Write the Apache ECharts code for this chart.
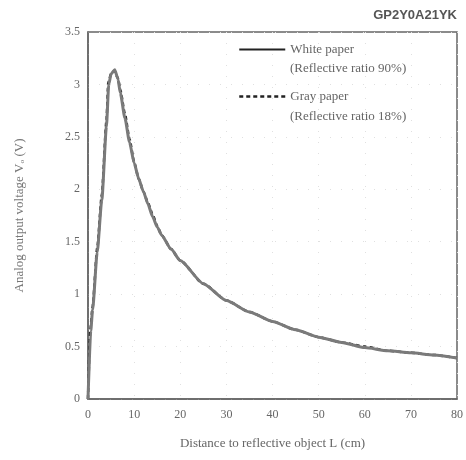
<!DOCTYPE html>
<html>
<head>
<meta charset="utf-8">
<script src="https://cdn.jsdelivr.net/npm/echarts@6/dist/echarts.min.js"></script>
<style>
  html, body { margin: 0; padding: 0; background: #fff; }
  #main { width: 466px; height: 460px; }
</style>
</head>
<body>
<div id="main"></div>
<script>
// distance L (cm) and output voltage (V)
const whiteDist = [0, 0.6, 1, 2, 3, 4, 4.5, 5, 5.8, 6.5, 7, 8, 9, 10, 11, 12, 13, 14, 15, 16, 18, 20, 25, 30, 35, 40, 45, 50, 55, 60, 65, 70, 75, 80];
const whiteVolt = [0, 0.65, 0.85, 1.4, 1.9, 2.6, 3.0, 3.1, 3.14, 3.05, 2.92, 2.68, 2.45, 2.25, 2.1, 1.98, 1.86, 1.74, 1.64, 1.56, 1.43, 1.32, 1.1, 0.94, 0.83, 0.74, 0.66, 0.59, 0.54, 0.49, 0.46, 0.44, 0.42, 0.39];

const grayDist = [0, 0.5, 1, 2, 3, 4, 4.4, 5, 5.7, 6.5, 7, 8, 9, 10, 11, 12, 13, 14, 15, 16, 18, 20, 25, 30, 35, 40, 45, 50, 55, 60, 65, 70, 75, 80];
const grayVolt = [0, 0.66, 0.88, 1.44, 1.95, 2.65, 3.02, 3.1, 3.13, 3.06, 2.95, 2.72, 2.48, 2.26, 2.1, 1.98, 1.87, 1.76, 1.65, 1.56, 1.43, 1.32, 1.1, 0.94, 0.83, 0.74, 0.66, 0.59, 0.54, 0.5, 0.46, 0.44, 0.42, 0.39];

const seriesNames = ['White paper', 'Gray paper'];
const ratioLabels = ['(Reflective ratio 90%)', '(Reflective ratio 18%)'];
const xTicks = [0, 10, 20, 30, 40, 50, 60, 70, 80];
const yTicks = [0, 0.5, 1, 1.5, 2, 2.5, 3, 3.5];

const toPairs = (xs, ys) => xs.map((x, i) => [x, ys[i]]);

const chart = echarts.init(document.getElementById('main'));

const serif = '"Liberation Serif", "DejaVu Serif", serif';

const option = {
  animation: false,
  backgroundColor: '#fff',
  title: {
    text: 'GP2Y0A21YK',
    right: 4,
    top: 4,
    textStyle: {
      fontFamily: '"Liberation Sans", Arial, sans-serif',
      fontSize: 13,
      fontWeight: 'bold',
      color: '#555'
    }
  },
  grid: {
    left: 88,
    right: 6,
    top: 32,
    bottom: 61,
    show: true,
    borderColor: '#666',
    borderWidth: 1.5,
    backgroundColor: 'transparent'
  },
  legend: {
    orient: 'vertical',
    left: 233,
    top: 38,
    itemWidth: 46,
    itemHeight: 12,
    itemGap: 34,
    itemStyle: { opacity: 0 },
    textStyle: { fontFamily: serif, fontSize: 13, color: '#666' },
    data: [
      { name: seriesNames[0], lineStyle: { color: '#222', width: 2 } },
      { name: seriesNames[1], lineStyle: { color: '#222', width: 2.5 } }
    ]
  },
  graphic: [
    { type: 'text', left: 290, top: 62, style: { text: ratioLabels[0], font: '13px ' + serif, fill: '#666' } },
    { type: 'text', left: 290, top: 110, style: { text: ratioLabels[1], font: '13px ' + serif, fill: '#666' } }
  ],
  xAxis: {
    type: 'value',
    min: xTicks[0],
    max: xTicks[xTicks.length - 1],
    interval: 10,
    name: 'Distance to reflective object L (cm)',
    nameLocation: 'middle',
    nameGap: 38,
    nameTextStyle: { fontFamily: serif, fontSize: 13, color: '#666' },
    axisLine: { show: true, lineStyle: { color: '#666', width: 1.5 } },
    axisTick: { show: false },
    axisLabel: { fontFamily: serif, fontSize: 12, color: '#666', margin: 10 },
    splitLine: { show: true, lineStyle: { color: '#e0e0e0', type: [1, 10] } }
  },
  yAxis: {
    type: 'value',
    min: yTicks[0],
    max: yTicks[yTicks.length - 1],
    interval: 0.5,
    name: 'Analog output voltage V\u2092 (V)',
    nameLocation: 'middle',
    nameGap: 62,
    nameTextStyle: { fontFamily: serif, fontSize: 13, color: '#777' },
    axisLine: { show: true, lineStyle: { color: '#666', width: 1.5 } },
    axisTick: { show: false },
    axisLabel: { fontFamily: serif, fontSize: 12, color: '#666', margin: 8 },
    splitLine: { show: true, lineStyle: { color: '#e0e0e0', type: [1, 10] } }
  },
  series: [
    {
      name: seriesNames[1],
      type: 'line',
      data: toPairs(grayDist, grayVolt),
      smooth: 0.2,
      smoothMonotone: 'x',
      symbol: 'none',
      z: 2,
      lineStyle: { color: '#222', width: 2.5, type: [4, 3] },
      itemStyle: { color: '#222' }
    },
    {
      name: seriesNames[0],
      type: 'line',
      data: toPairs(whiteDist, whiteVolt),
      smooth: 0.2,
      smoothMonotone: 'x',
      symbol: 'none',
      z: 3,
      lineStyle: { color: '#7a7a7a', width: 3 },
      itemStyle: { color: '#222' }
    }
  ]
};

chart.setOption(option);
</script>
</body>
</html>
